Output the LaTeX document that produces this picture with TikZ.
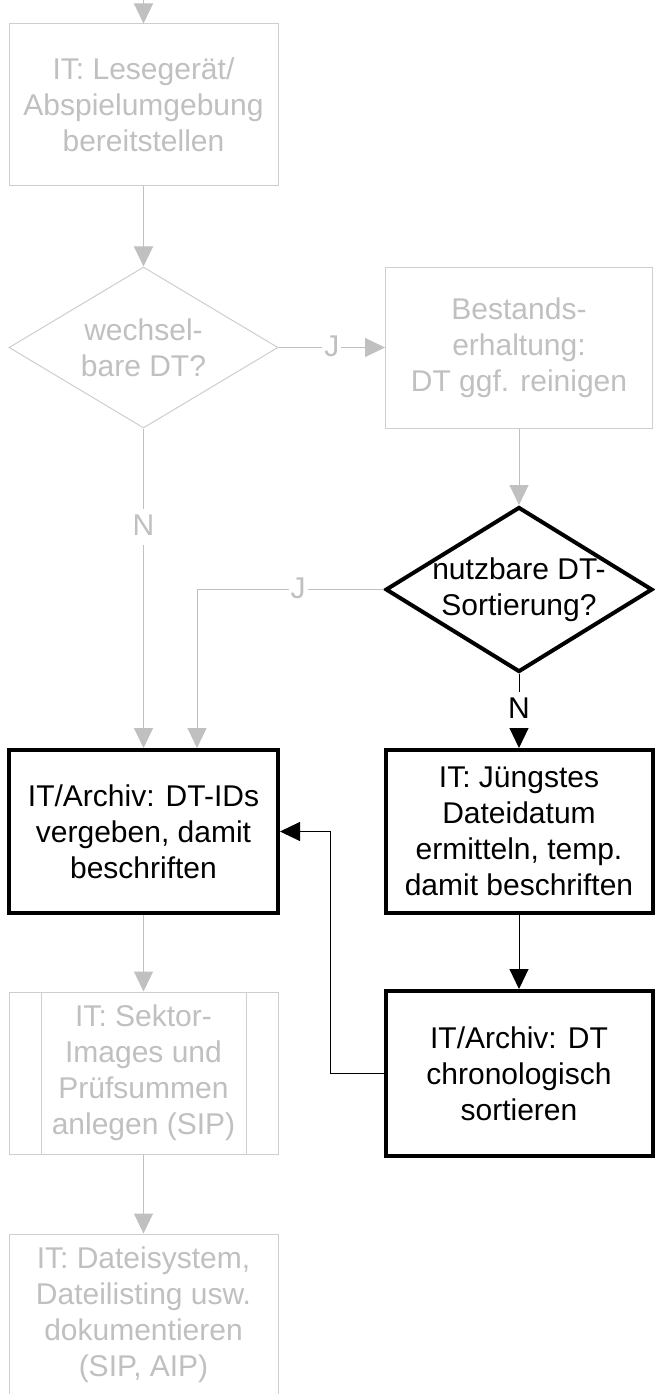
\documentclass[tikz,border=0pt]{standalone}
\usepackage{fontspec}
\setmainfont{Liberation Sans}
\usetikzlibrary{shapes.geometric,arrows.meta}
\definecolor{gtext}{RGB}{192,192,192}
\definecolor{gline}{RGB}{192,192,192}
\definecolor{gbord}{RGB}{206,206,206}
\begin{document}
\begin{tikzpicture}[x=1pt,y=-1pt,font=\fontsize{30}{36}\selectfont,
  gbox/.style={rectangle,draw=gbord,line width=1pt,minimum width=269pt,minimum height=161pt,inner sep=0pt,align=center,text=gtext},
  bbox/.style={rectangle,draw=black,line width=4pt,minimum width=267pt,minimum height=163pt,inner sep=0pt,align=center,text=black},
  gdia/.style={diamond,draw=gbord,line width=1pt,minimum width=269pt,minimum height=161pt,inner sep=0pt},
  bdia/.style={diamond,draw=black,line width=4pt,minimum width=267pt,minimum height=165pt,inner sep=0pt},
  gtxt/.style={align=center,text=gtext,inner sep=0pt},
  btxt/.style={align=center,text=black,inner sep=0pt},
  garrow/.style={draw=gline,line width=1pt,-{Triangle[length=20pt,width=19pt]}},
  barrow/.style={draw=black,line width=1pt,-{Triangle[length=20pt,width=19pt]}},
  gconn/.style={draw=gbord,line width=1pt},
  lbl/.style={fill=white,inner xsep=2pt,inner ysep=1pt,text height=26pt,text depth=8pt}
]
\useasboundingbox (0,0) rectangle (654,1394);
\fill[white] (0,0) rectangle (654,1394);

% left column
\node[gbox] (b1) at (143.5,104.5) {IT: Lesegerät/\\Abspielumgebung\\bereitstellen};
\node[gdia] (d1) at (143.5,347.5) {};
\node[gtxt] (d1t) at (d1.center) {wechsel-\\bare DT?};
\node[bbox,minimum width=269pt] (b3) at (143.5,831.5) {IT/Archiv: DT-IDs\\vergeben, damit\\beschriften};
\node[gbox,minimum height=162pt] (b5) at (143.5,1073) {IT: Sektor-\\Images und\\Prüfsummen\\anlegen (SIP)};
\node[gbox,minimum height=162pt] (b6) at (143.5,1315) {IT: Dateisystem,\\Dateilisting usw.\\dokumentieren\\(SIP, AIP)};

% right column
\node[gbox,minimum width=267pt] (b2) at (519,347.5) {Bestands-\\erhaltung:\\DT ggf. reinigen};
\node[bdia] (d2) at (519,589.5) {};
\node[btxt] (d2t) at (d2.center) {nutzbare DT-\\Sortierung?};
\node[bbox] (b4) at (519,831.5) {IT: Jüngstes\\Dateidatum\\ermitteln, temp.\\damit beschriften};
\node[bbox,minimum height=165pt] (b5r) at (519,1073.5) {IT/Archiv: DT\\chronologisch\\sortieren};

% subprocess inner lines
\draw[gconn] ([xshift=33pt]b5.north west) -- ([xshift=33pt]b5.south west);
\draw[gconn] ([xshift=-32pt]b5.north east) -- ([xshift=-32pt]b5.south east);

% connectors
\coordinate (top) at (143.5,-20);
\draw[garrow] (top) -- (b1);
\draw[garrow] (b1) -- (d1);
\draw[garrow] (d1) -- node[lbl,text=gtext,pos=0.5] (lj1) {J} (b2);
\draw[garrow] (b2) -- (d2);
\draw[garrow] (d1) -- node[lbl,text=gtext,pos=0.307] (ln1) {N} (b3);
\draw[garrow] (d2.west) -| node[lbl,text=gtext,pos=0.229] (lj2) {J} ([xshift=53.5pt]b3.north);
\draw[barrow] (d2) -- node[lbl,text=black,pos=0.48] (ln2) {N} (b4);
\draw[barrow] (b4) -- (b5r);
\draw[barrow] (b5r.west) -- ++(-53,0) |- (b3.east);
\draw[garrow] (b3) -- (b5);
\draw[garrow] (b5) -- (b6);
\end{tikzpicture}
\end{document}
